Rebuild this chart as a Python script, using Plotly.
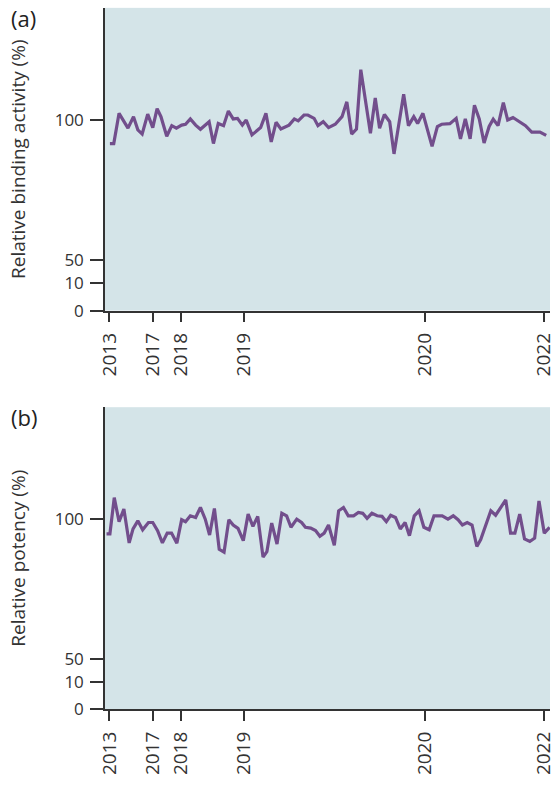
import plotly.graph_objects as go

# ---- data (lot position index, value %) ----
lot_a = [0, 0.8, 1.9, 3.75, 4.9, 5.8, 6.7, 7.85, 8.9, 9.8, 10.6, 11.8, 12.85, 13.8, 14.9, 15.7,
         16.7, 17.8, 18.8, 20.6, 21.5, 22.5, 23.6, 24.6, 25.6, 26.5, 27.5, 28.3, 29.5, 31.3,
         32.4, 33.5, 34.5, 35.5, 37.2, 38.3, 39.1, 40.3, 41.1, 42.4, 43.2, 44.3, 45.4, 46.8,
         48.2, 49.2, 50.2, 51.2, 52.1, 54.1, 55.1, 56.0, 57.0, 58.1, 59.0, 61.0, 62.0, 63.1,
         63.9, 65.0, 66.9, 68.0, 68.9, 70.6, 71.9, 72.8, 73.8, 74.8, 75.7, 76.7, 77.7, 78.75,
         79.6, 80.6, 81.7, 82.6, 83.7, 86.3, 87.6, 89.3, 90.6]
binding = [91.7, 91.7, 102.5, 97.2, 101.3, 96.6, 95.1, 102.2, 97.4, 104.2, 101.3, 94.3, 98.1,
           97.2, 98.3, 98.6, 100.5, 98.3, 96.8, 99.5, 91.7, 98.9, 98.1, 103.3, 100.5, 100.7,
           98.3, 100.1, 94.8, 97.4, 102.5, 92.3, 99.3, 96.9, 98.3, 100.5, 99.8, 101.9, 101.9,
           100.7, 98.1, 99.5, 97.4, 98.6, 101.3, 106.6, 95.1, 96.9, 118.1, 95.4, 108.0, 97.2,
           102.1, 99.5, 88.0, 109.3, 98.1, 101.3, 98.9, 102.5, 90.7, 97.8, 98.6, 98.8, 100.7,
           93.4, 100.5, 93.4, 105.4, 100.5, 91.9, 97.8, 100.4, 98.1, 106.3, 100.1, 101.0, 98.1,
           95.8, 95.8, 94.6]

lot_b = [-0.7, 0, 0.9, 1.9, 2.9, 4.0, 4.8, 5.8, 6.8, 8.0, 8.9, 9.9, 10.9, 11.9, 12.8, 13.9,
         14.9, 15.7, 16.7, 17.8, 18.8, 19.8, 20.7, 21.7, 22.7, 23.7, 24.7, 25.6, 26.6, 27.7,
         28.7, 29.7, 30.7, 31.8, 32.6, 33.6, 34.7, 35.7, 36.7, 37.6, 38.8, 39.8, 40.6, 41.7,
         42.7, 43.6, 44.5, 45.4, 46.6, 47.5, 48.5, 49.5, 50.6, 51.6, 52.5, 53.4, 54.4, 55.5,
         56.5, 57.4, 58.3, 59.3, 60.3, 61.3, 62.2, 63.2, 64.2, 65.2, 66.3, 67.3, 69.0, 70.2,
         71.3, 72.3, 73.2, 74.2, 75.2, 76.2, 77.0, 78.1, 79.1, 80.1, 81.1, 82.2, 83.2, 84.1,
         85.1, 86.1, 87.2, 88.2, 89.1, 90.2, 91.3]
potency = [94.8, 94.8, 107.8, 99.2, 103.7, 91.6, 96.6, 99.5, 96.3, 98.9, 98.9, 96.0, 91.6,
           95.1, 95.1, 91.5, 99.9, 99.2, 101.3, 100.7, 104.3, 100.1, 94.4, 103.9, 89.3, 88.3,
           99.9, 98.0, 96.8, 92.4, 101.9, 97.5, 101.1, 86.5, 88.5, 98.7, 91.2, 102.2, 101.3,
           97.2, 100.1, 98.9, 97.2, 96.9, 96.0, 94.0, 95.1, 98.0, 90.7, 103.1, 104.3, 101.3,
           101.3, 102.5, 102.2, 100.4, 102.2, 101.3, 101.1, 99.2, 101.5, 100.7, 96.6, 98.9,
           94.2, 101.3, 103.1, 97.2, 96.3, 101.3, 101.3, 100.1, 101.3, 99.9, 98.0, 98.9, 98.0,
           90.3, 92.8, 97.8, 103.1, 101.5, 104.3, 107.0, 95.1, 95.1, 101.9, 93.0, 92.1, 93.3,
           106.6, 95.1, 97.2]

year_pos = [-0.1, 8.9, 14.75, 27.8, 65.4, 90.2]
year_labels = ["2013", "2017", "2018", "2019", "2020", "2022"]

# broken-axis tick positions (0 and 10 are compressed below 50)
ytick_pos = [32.0, 41.9, 50.0, 100.0]
ytick_labels = ["0", "10", "50", "100"]

LINE = "rgb(114,78,140)"
BG = "rgb(212,228,232)"
AX = "#333333"
FONT = "Open Sans"
xrange = [-1.02, 91.39]
yrange = [32.0, 140.2]

fig = go.Figure()
fig.add_trace(go.Scatter(x=lot_a, y=binding, mode="lines", xaxis="x", yaxis="y",
                         line=dict(color=LINE, width=3.2), showlegend=False, hoverinfo="skip"))
fig.add_trace(go.Scatter(x=lot_b, y=potency, mode="lines", xaxis="x2", yaxis="y2",
                         line=dict(color=LINE, width=3.2), showlegend=False, hoverinfo="skip"))

def xax(anchor):
    return dict(anchor=anchor, domain=[0, 1], range=xrange, showgrid=False, zeroline=False,
                showline=True, linecolor=AX, linewidth=1.5, ticks="outside", ticklen=10,
                tickwidth=1.5, tickcolor=AX, tickmode="array", tickvals=year_pos,
                ticktext=year_labels, tickangle=-90, ticklabelstandoff=3,
                ticklabeloverflow="allow",
                tickfont=dict(family=FONT, size=19, color=AX))

def yax(anchor, domain, title):
    return dict(anchor=anchor, domain=domain, range=yrange, showgrid=False, zeroline=False,
                showline=True, linecolor=AX, linewidth=1.5, ticks="outside", ticklen=13,
                tickwidth=1.5, tickcolor=AX, tickmode="array", tickvals=ytick_pos,
                ticktext=ytick_labels, ticklabelstandoff=3,
                tickfont=dict(family=FONT, size=17, color=AX),
                title=dict(text=title, font=dict(family=FONT, size=19, color=AX), standoff=24))

def yinner(anchor, over):
    return dict(anchor=anchor, overlaying=over, range=yrange, showgrid=False, zeroline=False,
                showline=False, ticks="inside", ticklen=9, tickwidth=1.5, tickcolor=AX,
                tickmode="array", tickvals=ytick_pos, showticklabels=False)

dom_a = [0.6008, 0.9899]
dom_b = [0.0883, 0.4766]

fig.update_layout(
    width=556, height=789,
    margin=dict(l=105, r=0, t=0, b=0),
    paper_bgcolor="white",
    plot_bgcolor=BG,
    xaxis=xax("y"),
    yaxis=yax("x", dom_a, "Relative binding activity (%)"),
    xaxis2=xax("y2"),
    yaxis2=yax("x2", dom_b, "Relative potency (%)"),
    yaxis3=yinner("x", "y"),
    yaxis4=yinner("x2", "y2"),
    annotations=[
        dict(text="(a)", xref="paper", yref="paper", x=-0.2151, y=1 - 18 / 789,
             xanchor="left", yanchor="middle", showarrow=False,
             font=dict(family=FONT, size=22, color="#222222")),
        dict(text="(b)", xref="paper", yref="paper", x=-0.2151, y=1 - 423 / 789,
             xanchor="left", yanchor="middle", showarrow=False,
             font=dict(family=FONT, size=22, color="#222222")),
    ],
)

fig.write_html("out.html")
